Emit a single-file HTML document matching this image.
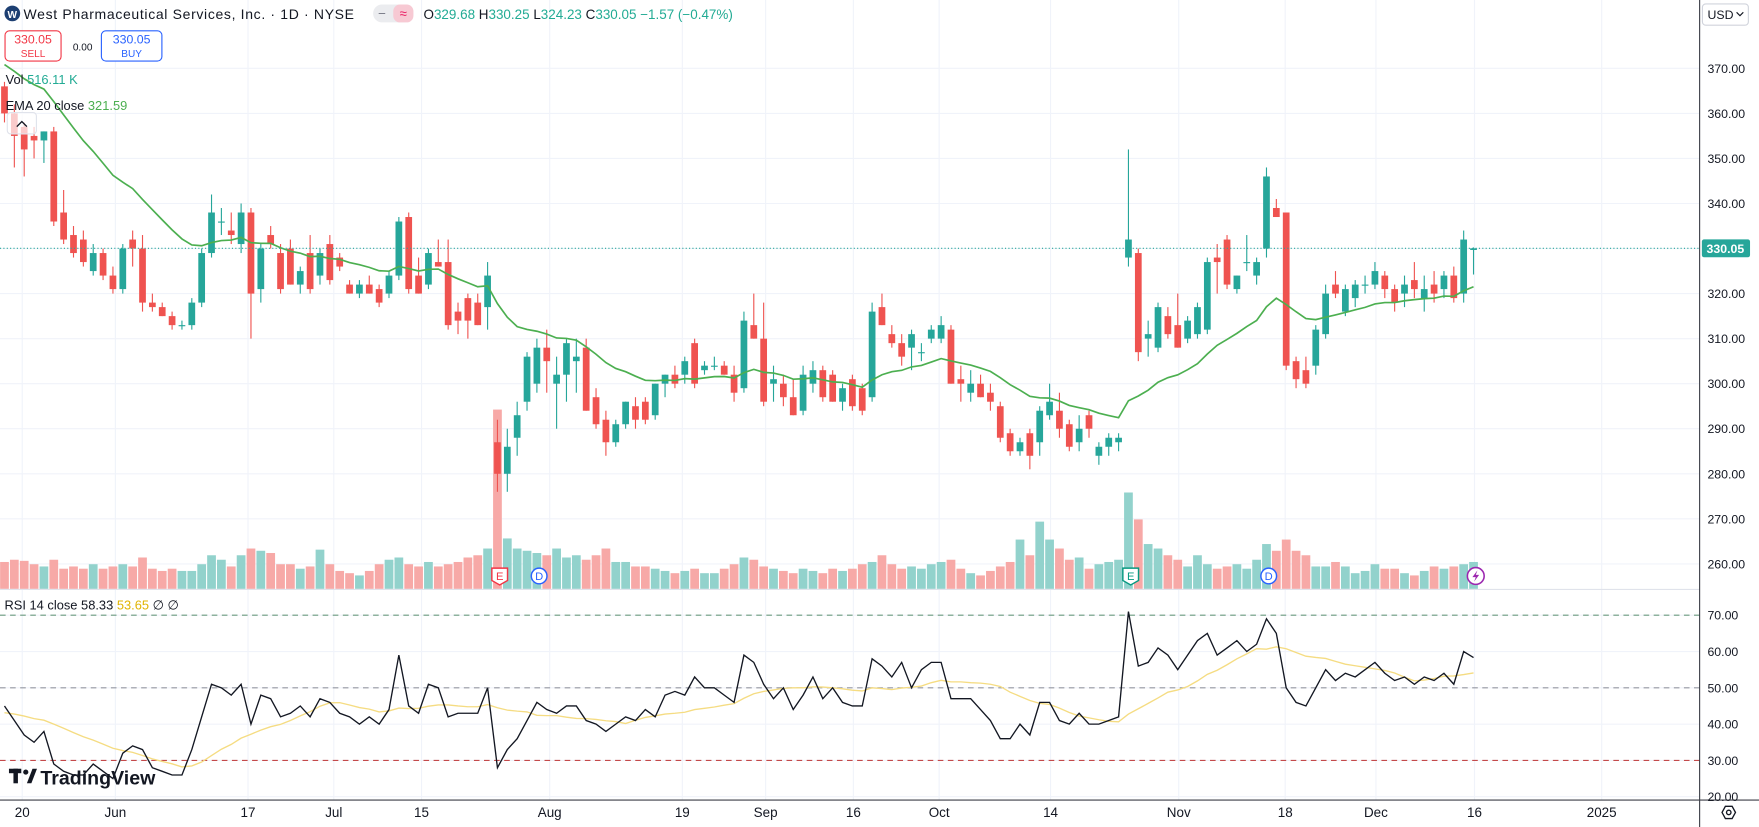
<!DOCTYPE html>
<html><head><meta charset="utf-8"><title>WST Chart</title>
<style>
html,body{margin:0;padding:0;background:#fff;overflow:hidden}
svg{display:block;font-family:"Liberation Sans",sans-serif}
</style></head>
<body>
<svg id="chart" width="1759" height="827" viewBox="0 0 1570 738" preserveAspectRatio="none" xmlns="http://www.w3.org/2000/svg">
  <rect x="0" y="0" width="1570" height="738" fill="#ffffff"/>
  <g id="grid"></g>
  <g id="rsiLevels"></g>
  <g id="volume"></g>
  <g id="candles"></g>
  <path id="emaLine" fill="none" stroke="#4caf50" stroke-width="1.5"/>
  <path id="rsiMaLine" fill="none" stroke="#f5dc82" stroke-width="1.2"/>
  <path id="rsiLine" fill="none" stroke="#131722" stroke-width="1.2"/>
  <line x1="0" y1="221" x2="1517" y2="221" id="lastLine" stroke="#26a69a" stroke-width="1" stroke-dasharray="1,2"/>
  <g id="markers"></g>
  <line x1="0" y1="526" x2="1517" y2="526" stroke="#e0e3eb" stroke-width="1"/>
  <line x1="1517" y1="0" x2="1517" y2="738" stroke="#3c3f47" stroke-width="1"/>
  <line x1="0" y1="714" x2="1570" y2="714" stroke="#3c3f47" stroke-width="1"/>
  <g id="priceAxis" font-size="11" fill="#131722"></g>
  <g id="rsiAxis" font-size="11" fill="#131722"></g>
  <g id="timeAxis" font-size="12" fill="#131722"></g>
  <g>
    <rect id="lastTag" x="1519" y="213" width="43" height="16" rx="2" fill="#26a69a"/>
    <text id="lastTagText" x="1540" y="225" font-size="11" fill="#fff" text-anchor="middle" font-weight="bold">330.05</text>
  </g>
  <g>
    <circle cx="11" cy="12" r="7" fill="#1d3f72"/>
    <text x="11" y="16" font-size="9" fill="#fff" text-anchor="middle" font-weight="bold">W</text>
    <text x="21" y="17" font-size="12.5" fill="#131722" textLength="295">West Pharmaceutical Services, Inc. · 1D · NYSE</text>
    <rect x="333" y="4" width="36" height="16" rx="8" fill="#ebecef"/>
    <rect x="351" y="4" width="18" height="16" rx="6" fill="#f7c9d3"/>
    <text x="341" y="16" font-size="12" fill="#787b86" text-anchor="middle">−</text>
    <text x="360" y="16" font-size="12" fill="#e91e63" text-anchor="middle">≈</text>
    <text x="378" y="17" font-size="12" fill="#131722">O<tspan fill="#22ab94">329.68</tspan> H<tspan fill="#22ab94">330.25</tspan> L<tspan fill="#22ab94">324.23</tspan> C<tspan fill="#22ab94">330.05</tspan> <tspan fill="#22ab94">−1.57 (−0.47%)</tspan></text>
  </g>
  <g>
    <rect x="4.5" y="27.5" width="50" height="27" rx="4" fill="#fff" stroke="#f23645"/>
    <text x="29.5" y="39" font-size="11" fill="#f23645" text-anchor="middle">330.05</text>
    <text x="29.5" y="51" font-size="9" fill="#f23645" text-anchor="middle">SELL</text>
  </g>
  <text x="65" y="45" font-size="9" fill="#131722">0.00</text>
  <g>
    <rect x="90.5" y="27.5" width="54" height="27" rx="4" fill="#fff" stroke="#2962ff"/>
    <text x="117.5" y="39" font-size="11" fill="#2962ff" text-anchor="middle">330.05</text>
    <text x="117.5" y="51" font-size="9" fill="#2962ff" text-anchor="middle">BUY</text>
  </g>
  <text x="5" y="75" font-size="11.5" fill="#131722">Vol <tspan fill="#22ab94">516.11 K</tspan></text>
  <text x="5" y="98" font-size="11.5" fill="#131722">EMA 20 close <tspan fill="#4caf50">321.59</tspan></text>
  <g>
    <rect x="6.5" y="100.5" width="26" height="19" rx="3" fill="rgba(255,255,255,0.7)" stroke="#e0e3eb"/>
    <path d="M15 113 L19.5 108.5 L24 113" fill="none" stroke="#131722" stroke-width="1.2"/>
  </g>
  <text x="4" y="544" font-size="11.5" fill="#131722">RSI 14 close <tspan fill="#131722">58.33</tspan> <tspan fill="#e0b400">53.65</tspan> ∅ ∅</text>
  <g>
    <rect x="1519.5" y="3.5" width="41" height="19" rx="3" fill="#fff" stroke="#d1d4dc"/>
    <text x="1524" y="17" font-size="11" fill="#131722">USD</text>
    <path d="M1550 11 L1553 14 L1556 11" fill="none" stroke="#131722" stroke-width="1"/>
  </g>
  <g>
    <rect x="8" y="686" width="11" height="4" fill="#131722"/>
    <rect x="12" y="686" width="4" height="13" fill="#131722"/>
    <circle cx="23" cy="689" r="2.3" fill="#131722"/>
    <path d="M24 699 L29 686 L33 686 L28 699 Z" fill="#131722"/>
    <text x="36" y="700" font-size="17.5" font-weight="bold" fill="#131722">TradingView</text>
  </g>
  <g>
    <path d="M1537 725 L1540 719.5 L1546 719.5 L1549 725 L1546 730.5 L1540 730.5 Z" fill="none" stroke="#131722" stroke-width="1.2"/>
    <circle cx="1543" cy="725" r="2" fill="none" stroke="#131722" stroke-width="1.2"/>
  </g>
</svg>
<script>
const opens=[366,360,357,355,354,356,338,333,332,325, 329,324,321,332,330,318,317,315,313,313, 318,329,336,334,331,338,321,333,329,330, 322,329,324,331,328,322,320,322,321,320, 324,337,324,322,327,327,316,319,318,317, 287,280,288,296,300,308,300,302,305,308, 297,292,287,291,295,296,293,300,302,302, 309,303,304,304,302,299,313,310,300,300, 297,294,300,303,302,296,301,299,297,317, 311,309,308,307,310,310,312,301,298,300, 298,295,289,285,289,287,293,294,291,287, 293,284,286,287,328,329,310,308,315,313, 310,311,312,328,332,321,327,324,330,339, 338,305,303,304,311,322,316,319,322,322, 324,321,320,323,319,322,321,324,320,329.68];
const highs=[367,362,358,357,356,357,343,335,334,331, 330,326,331,334,333,320,318,316,314,319, 330,342,339,338,340,339,331,335,331,332, 326,333,330,333,329,323,323,324,322,325, 337,338,328,330,332,332,318,320,320,327, 292,290,296,307,310,312,306,310,310,310, 299,294,292,296,297,297,300,302,304,306, 310,305,306,305,304,316,320,318,304,302, 301,304,305,304,303,300,302,300,318,320, 313,311,312,309,313,315,313,304,303,302, 300,296,290,288,290,295,300,298,292,293, 294,287,289,289,352,330,314,318,317,320, 315,318,328,331,333,324,333,328,348,341, 338,306,306,313,322,325,322,323,324,327, 325,322,324,327,324,325,325,326,334,330.25];
const lows=[358,348,346,350,349,335,331,328,326,324, 323,320,320,326,316,316,315,312,312,312, 317,328,333,331,329,310,318,330,320,322, 320,320,322,322,325,320,319,320,317,319, 323,320,320,321,326,312,311,310,313,312, 276,276,284,294,298,298,290,296,298,294, 290,284,286,290,290,291,292,297,299,300, 299,302,303,302,296,298,310,295,296,295, 293,293,298,296,296,294,294,293,296,313, 308,304,303,305,309,309,300,296,296,297, 294,287,284,284,281,284,292,288,285,285, 288,282,284,285,326,305,306,307,310,308, 309,310,311,320,321,320,325,322,328,337, 303,299,299,302,310,319,315,317,320,321, 319,316,317,319,316,318,319,318,318,324.23];
const closes=[360,355,352,354,356,336,332,329,327,329, 324,321,330,330,318,317,315,313,313,318, 329,338,336,333,338,320,330,331,321,322, 325,321,329,323,326,320,322,320,318,324, 336,321,320,329,326,313,314,314,313,324, 280,286,293,306,308,305,302,309,306,294, 291,287,291,296,292,292,300,302,300,305, 300,304,304,302,298,314,310,296,301,297, 293,302,303,297,296,299,295,294,316,313, 309,306,311,307,312,313,300,300,300,297, 296,288,285,287,284,294,296,290,286,290, 290,286,288,288,332,307,311,317,311,308, 314,317,327,327,322,324,327,327,346,337, 304,301,300,312,320,320,321,322,322,325, 321,318,322,321,321,320,324,319,332,330.05];
const volumesK=[480,520,500,440,400,520,360,400,360,440, 360,400,440,400,560,360,320,360,320,320, 440,600,520,400,600,720,680,640,440,440, 360,400,700,440,320,280,240,320,440,520, 560,440,400,480,400,440,480,560,600,720, 3200,900,720,680,640,600,720,560,600,520, 600,720,480,480,400,400,360,320,280,320, 360,280,280,360,440,560,520,400,360,320, 280,360,320,280,360,320,360,440,480,600, 440,360,400,360,440,480,520,360,280,240, 320,400,480,880,600,1200,880,720,520,560, 360,440,480,520,1720,1240,800,720,600,520, 400,600,440,360,400,440,360,520,800,680, 880,680,600,400,400,480,400,280,320,440, 360,360,280,240,320,400,360,400,440,480];
const rsiValues=[45,41,37,35,38,29,27,26,26,29, 27,25,32,34,33,28,27,26,26,33, 42,51,50,48,51,40,48,47,42,43, 45,42,47,46,43,42,40,42,40,44, 59,45,43,51,50,42,43,43,43,50, 28,33,36,41,46,44,43,45,45,41, 40,38,40,42,41,44,42,48,49,48, 53,50,50,48,46,59,57,51,47,50, 44,48,53,47,50,46,45,45,58,56, 53,57,50,55,57,57,47,47,47,44, 41,36,36,40,37,46,46,41,40,43, 40,40,41,42,71,56,57,61,59,55, 59,63,65,59,61,63,60,62,69,65, 50,46,45,50,55,52,54,53,55,57, 54,52,53,51,53,52,54,51,60,58.33];
const rsiSeed=[46,45,45,44,44,43,43,42,42,42,41,41,41];
const emaSeed=372;
const priceTicks=[370,360,350,340,330,320,310,300,290,280,270,260];
const rsiTicks=[70,60,50,40,30,20];
const timeTickIdx=[1.8,11.25,24.7,33.4,42.3,55.3,68.75,77.2,86.1,94.8,106.1,119.1,129.9,139.1,149.1,162];
const timeTickLabels=["20","Jun","17","Jul","15","Aug","19","Sep","16","Oct","14","Nov","18","Dec","16","2025"];
const markerIdx=[50,54,114,128,149];
const markerTypes=["E-red","D","E-green","D","bolt"];

const NS="http://www.w3.org/2000/svg";
const X0=4, DX=8.8;
function xs(i){return X0+i*DX;}
function yp(p){return 61+(370-p)*4.02;}
function yr(r){return 549+(70-r)*3.24;}
function yv(k){return 525.5-k/20;}
function mk(tag,attrs,parent){const e=document.createElementNS(NS,tag);for(const k in attrs)e.setAttribute(k,attrs[k]);parent.appendChild(e);return e;}

const grid=document.getElementById('grid');
const pAx=document.getElementById('priceAxis');
priceTicks.forEach(p=>{
  const l=mk('line',{x1:0,x2:1517,y1:yp(p),y2:yp(p),stroke:'#f0f3fa','stroke-width':1},grid);
  
  
  const t=mk('text',{x:1524,y:yp(p)+4},pAx);
  t.textContent=p.toFixed(2);
  
  
});
const rAx=document.getElementById('rsiAxis');
rsiTicks.forEach(r=>{
  const l=mk('line',{x1:0,x2:1517,y1:yr(r),y2:yr(r),stroke:'#f0f3fa','stroke-width':1},grid);
  
  
  const t=mk('text',{x:1524,y:yr(r)+4},rAx);
  t.textContent=r.toFixed(2);
  
  
});
const tAx=document.getElementById('timeAxis');
timeTickIdx.forEach((ix,k)=>{
  const x=xs(ix);
  const l=mk('line',{x1:x,x2:x,y1:0,y2:714,stroke:'#f0f3fa','stroke-width':1},grid);
  
  
  const t=mk('text',{x:x,y:729,'text-anchor':'middle'},tAx);
  t.textContent=timeTickLabels[k];
  
  
});
const lv=document.getElementById('rsiLevels');
[[70,'#6c9a7f'],[50,'#9598a1'],[30,'#c44a4a']].forEach(([r,c])=>{
  const l=mk('line',{x1:0,x2:1517,y1:yr(r),y2:yr(r),stroke:c,'stroke-width':1,'stroke-dasharray':'5,4'},lv);
  
  
});

const vg=document.getElementById('volume');
const cg=document.getElementById('candles');
for(let i=0;i<closes.length;i++){
  const up=closes[i]>=opens[i];
  const x=xs(i);
  const v=mk('rect',{x:x-3.9,y:yv(volumesK[i]),width:7.8,height:525.5-yv(volumesK[i]),fill:up?'#92d2cc':'#f7a9a7'},vg);
  
  
  const col=up?'#26a69a':'#ef5350';
  const g=mk('g',{},cg);
  
  
  mk('line',{x1:x,x2:x,y1:yp(highs[i]),y2:yp(lows[i]),stroke:col,'stroke-width':1},g);
  const top=yp(Math.max(opens[i],closes[i])),bot=yp(Math.min(opens[i],closes[i]));
  mk('rect',{x:x-3,y:top,width:6,height:Math.max(1,bot-top),fill:col},g);
}
let ema=emaSeed,d='';
const a=2/21;
for(let i=0;i<closes.length;i++){ema=a*closes[i]+(1-a)*ema;d+=(i?'L':'M')+xs(i).toFixed(1)+' '+yp(ema).toFixed(1);}
document.getElementById('emaLine').setAttribute('d',d);
let dr='';
rsiValues.forEach((r,i)=>{dr+=(i?'L':'M')+xs(i).toFixed(1)+' '+yr(r).toFixed(1);});
document.getElementById('rsiLine').setAttribute('d',dr);
const all=rsiSeed.concat(rsiValues);let dm='';
for(let i=0;i<rsiValues.length;i++){let s=0;for(let k=0;k<14;k++)s+=all[i+k];dm+=(i?'L':'M')+xs(i).toFixed(1)+' '+yr(s/14).toFixed(1);}
document.getElementById('rsiMaLine').setAttribute('d',dm);
const lc=closes[closes.length-1];
document.getElementById('lastLine').setAttribute('y1',yp(lc));
document.getElementById('lastLine').setAttribute('y2',yp(lc));
document.getElementById('lastTag').setAttribute('y',yp(lc)-8);
document.getElementById('lastTagText').setAttribute('y',yp(lc)+4);
document.getElementById('lastTagText').textContent=lc.toFixed(2);
const mg=document.getElementById('markers');
markerIdx.forEach((ix,k)=>{
  const x=xs(ix)+2,y=514,t=markerTypes[k];
  const g=mk('g',{},mg);
  
  
  if(t.startsWith('E')){
    const c=t==='E-red'?'#f23645':'#089981';
    mk('path',{d:`M${x-7} ${y-7} L${x+7} ${y-7} L${x+7} ${y+4} L${x} ${y+8} L${x-7} ${y+4} Z`,fill:'#fff',stroke:c,'stroke-width':1.3},g);
    const tt=mk('text',{x:x,y:y+3.5,'font-size':10,fill:c,'text-anchor':'middle'},g);tt.textContent='E';
  }else if(t==='D'){
    mk('circle',{cx:x,cy:y,r:7,fill:'#fff',stroke:'#2962ff','stroke-width':1.3},g);
    const tt=mk('text',{x:x,y:y+3.5,'font-size':10,fill:'#2962ff','text-anchor':'middle'},g);tt.textContent='D';
  }else{
    mk('circle',{cx:x,cy:y,r:7.5,fill:'#fff',stroke:'#9c27b0','stroke-width':1.4},g);
    mk('path',{d:`M${x+1.5} ${y-5} L${x-3} ${y+1} L${x} ${y+1} L${x-1.5} ${y+5} L${x+3} ${y-1} L${x} ${y-1} Z`,fill:'#9c27b0'},g);
  }
});
</script>
</body></html>
